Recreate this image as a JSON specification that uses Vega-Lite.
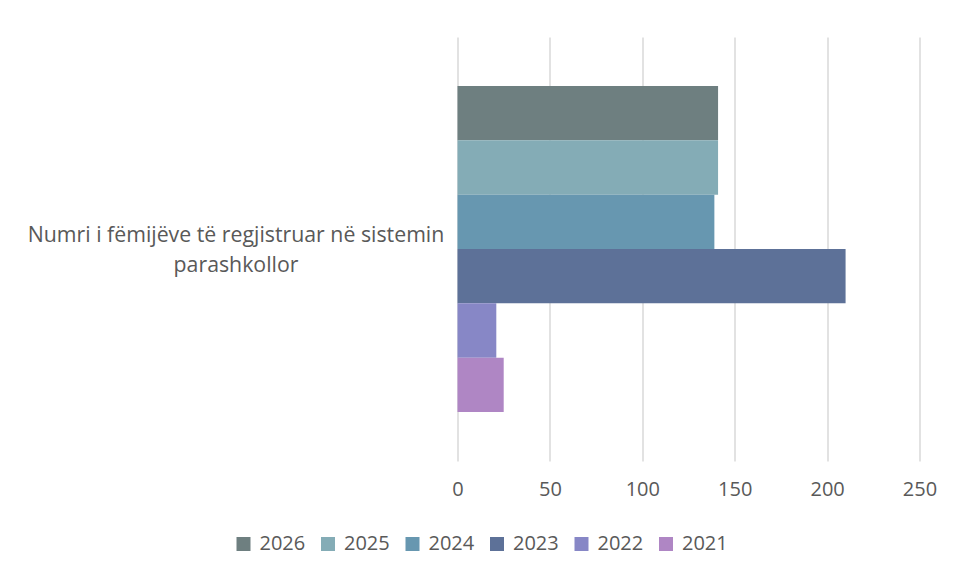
{
  "$schema": "https://vega.github.io/schema/vega-lite/v6.json",
  "width": 462,
  "height": 424,
  "autosize": {"type": "none"},
  "padding": {"left": 457.5, "top": 37, "right": 34.5, "bottom": 117},
  "background": "white",
  "config": {
    "view": {"stroke": null},
    "font": "Open Sans",
    "axis": {"labelFont": "Open Sans", "labelColor": "#595959", "labelFontSize": 20},
    "legend": {"labelFont": "Open Sans", "labelColor": "#595959", "labelFontSize": 20}
  },
  "data": {
    "values": [
      {"category": "Numri i fëmijëve të regjistruar në sistemin parashkollor", "year": "2026", "value": 141},
      {"category": "Numri i fëmijëve të regjistruar në sistemin parashkollor", "year": "2025", "value": 141},
      {"category": "Numri i fëmijëve të regjistruar në sistemin parashkollor", "year": "2024", "value": 139},
      {"category": "Numri i fëmijëve të regjistruar në sistemin parashkollor", "year": "2023", "value": 210},
      {"category": "Numri i fëmijëve të regjistruar në sistemin parashkollor", "year": "2022", "value": 21},
      {"category": "Numri i fëmijëve të regjistruar në sistemin parashkollor", "year": "2021", "value": 25}
    ]
  },
  "mark": {"type": "bar"},
  "encoding": {
    "y": {
      "field": "category",
      "type": "nominal",
      "title": null,
      "scale": {"paddingInner": 0, "paddingOuter": 0.15},
      "axis": {
        "ticks": false,
        "domain": false,
        "labelAlign": "center",
        "labelBaseline": "middle",
        "labelPadding": 222,
        "labelLimit": 600,
        "labelFontSize": 21.3,
        "labelLineHeight": 30,
        "labelOffset": -13,
        "labelExpr": "['Numri i fëmijëve të regjistruar në sistemin', 'parashkollor']"
      }
    },
    "yOffset": {
      "field": "year",
      "type": "nominal",
      "sort": ["2026", "2025", "2024", "2023", "2022", "2021"],
      "scale": {"paddingInner": 0, "paddingOuter": 0}
    },
    "x": {
      "field": "value",
      "type": "quantitative",
      "title": null,
      "scale": {"domain": [0, 250], "nice": false},
      "axis": {
        "values": [0, 50, 100, 150, 200, 250],
        "ticks": false,
        "domain": false,
        "grid": true,
        "gridColor": "#d9d9d9",
        "gridWidth": 1.5,
        "labelPadding": 18,
        "labelFlush": false
      }
    },
    "color": {
      "field": "year",
      "type": "nominal",
      "title": null,
      "scale": {
        "domain": ["2026", "2025", "2024", "2023", "2022", "2021"],
        "range": ["#6e7f80", "#84acb6", "#6797b0", "#5d7198", "#8787c6", "#af86c4"]
      },
      "legend": {
        "orient": "none",
        "direction": "horizontal",
        "legendX": -224,
        "legendY": 497,
        "symbolType": "square",
        "symbolSize": 196,
        "symbolStrokeWidth": 0,
        "labelOffset": 6,
        "columnPadding": 12.5
      }
    }
  }
}
